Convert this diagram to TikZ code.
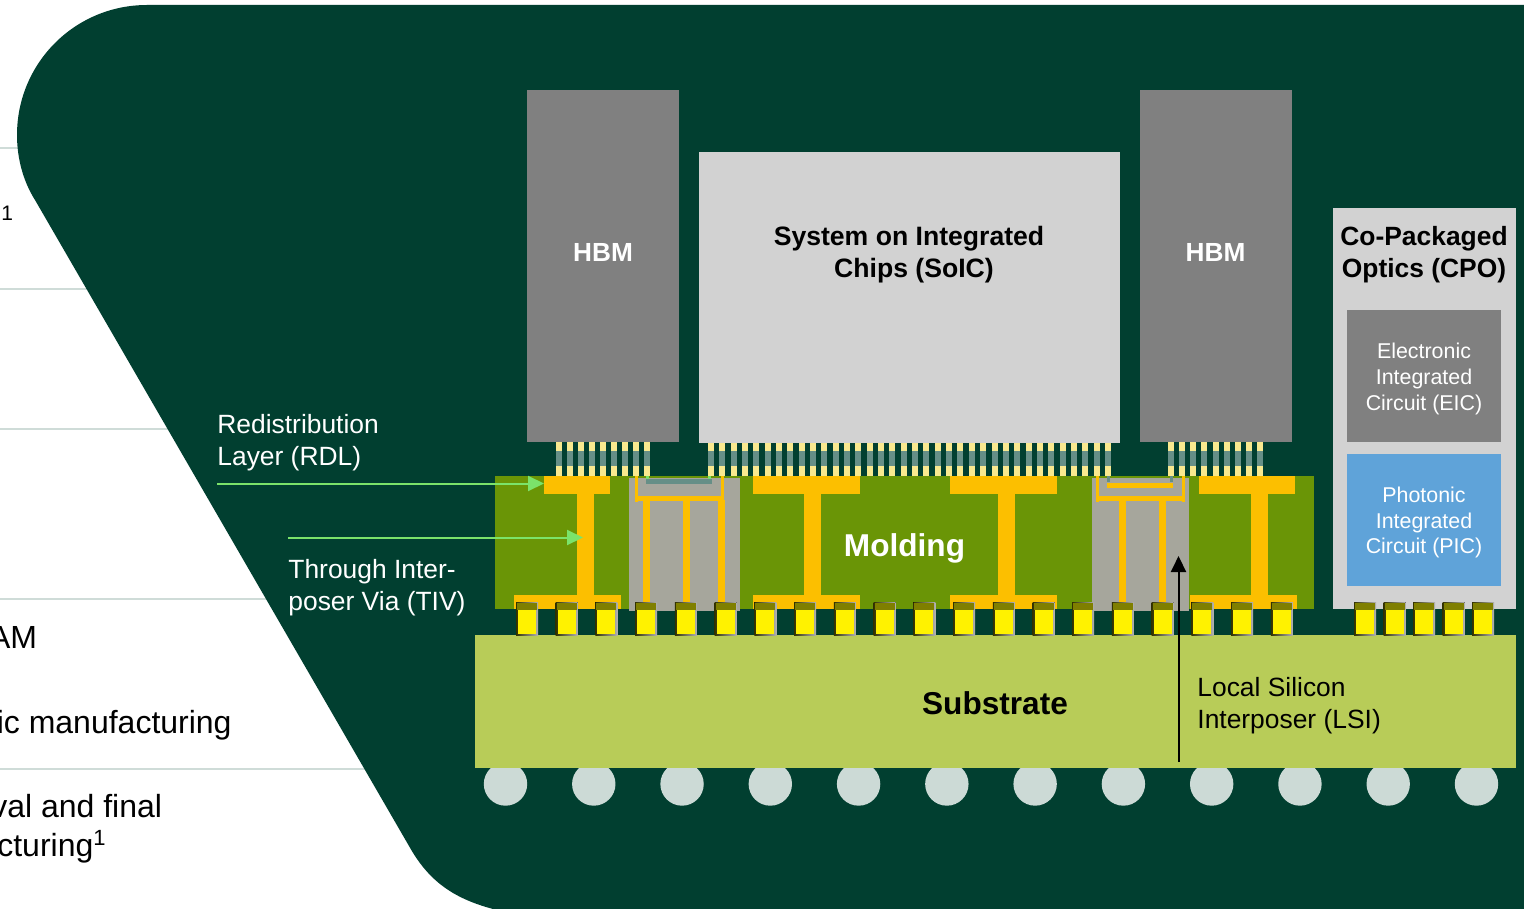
\documentclass[tikz,border=0pt]{standalone}
\usepackage{fontspec}
\setmainfont{Liberation Sans}
\usetikzlibrary{arrows.meta}
\definecolor{bgdark}{HTML}{013F30}
\definecolor{rule}{HTML}{CFDCD8}
\definecolor{hbmgrey}{HTML}{808080}
\definecolor{soicgrey}{HTML}{D2D2D2}
\definecolor{picblue}{HTML}{5FA3D9}
\definecolor{mold}{HTML}{6A9506}
\definecolor{rdl}{HTML}{FCBF00}
\definecolor{lsigrey}{HTML}{A6A69C}
\definecolor{pillar}{HTML}{F9E98F}
\definecolor{pillarmid}{HTML}{668F87}
\definecolor{subst}{HTML}{B8CC58}
\definecolor{ball}{HTML}{CCDAD6}
\definecolor{arrowgreen}{HTML}{7BE36A}
\definecolor{capolive}{HTML}{7F7F00}
\newcommand{\fsize}[2]{\fontsize{#1}{#2}\selectfont}
% \labelbox{name}{x1}{y1}{x2}{y2}{colour}: a rectangle node given by pixel corners
\newcommand{\labelbox}[6]{%
  \pgfmathsetmacro{\bw}{(#4-#2)*0.5}\pgfmathsetmacro{\bh}{(#5-#3)*0.5}%
  \pgfmathsetmacro{\bx}{(#2+#4)/2}\pgfmathsetmacro{\by}{(#3+#5)/2}%
  \node[boxnode,fill=#6,minimum width=\bw pt,minimum height=\bh pt] (#1) at (\bx,\by) {};}
\newcommand{\ibeam}[6]{% pad x1,x2; stem x1,x2; foot x1,x2
  \fill[rdl] (#1,476) rectangle (#2,494);
  \fill[rdl] (#3,494) rectangle (#4,595);
  \fill[rdl] (#5,595) rectangle (#6,609);}
\newcommand{\cfour}[2]{% left x, top y of a solder bump
  \fill[left color=black!60!capolive,right color=black!30] (#1,#2) rectangle (#1+22,635);
  \fill[capolive] (#1+1,#2+1) rectangle (#1+21,#2+8);
  \fill[yellow] (#1+2,#2+8) rectangle (#1+20,634);}
\tikzset{
  boxnode/.style={rectangle,draw=none,inner sep=0pt,outer sep=0pt},
  wlabel/.style={inner sep=0pt,align=left,anchor=west,text=white,font=\fsize{13.2}{16}},
  clabel/.style={inner sep=0pt,align=center},
  lefttext/.style={inner sep=0pt,anchor=base east,align=left,text=black,font=\fsize{16}{19.5}},
  ruleline/.style={draw=rule,line width=1pt},
  callout/.style={line width=1pt,-{Triangle[length=8pt,width=7.5pt]}}
}
\begin{document}
\begin{tikzpicture}[x=0.5pt,y=-0.5pt]
\useasboundingbox (0,0) rectangle (1524,909);
\fill[white] (0,0) rectangle (1524,909);
% left-hand table rules and cut-off text
\begin{scope}
\clip (0,0) rectangle (1524,909);
\draw[ruleline] (0,148.5) -- (30,148.5);
\draw[ruleline] (0,288.5) -- (110,288.5);
\draw[ruleline] (0,428.5) -- (190,428.5);
\draw[ruleline] (0,598.5) -- (290,598.5);
\draw[ruleline] (0,768.5) -- (385,768.5);
\node[lefttext,anchor=base west,font=\fsize{10.5}{12}] (tA) at (1,220.5) {1};
\node[lefttext] (tB) at (37.5,648) {AM};
\node[lefttext] (tC) at (232,733.7) {ic manufacturing};
\node[lefttext] (tD) at (162.5,817.7) {val and final};
\node[lefttext] (tE) at (106,856) {cturing\raisebox{5.5pt}{\fsize{11}{12}1}};
% dark panel
\fill[bgdark] (1524,5) -- (147,5)
  .. controls (75,5) and (17,63) .. (17,135)
  .. controls (17,158) and (23,181) .. (35,200)
  -- (409,846)
  .. controls (428,880) and (452,898) .. (493,909)
  -- (1524,909) -- cycle;
\end{scope}
% solder balls (behind the substrate)
\foreach \i in {0,...,11}{
  \fill[ball] ({505.5+\i*88.27},784) circle[radius=21.7];
}
% molding
\labelbox{molding}{495}{476}{1314}{609}{mold}
% RDL I-beams
\ibeam{544}{610}{577}{594}{514}{621}
\ibeam{753}{860}{804}{821}{753}{860}
\ibeam{950}{1057}{998}{1015}{950}{1057}
\ibeam{1199}{1295}{1251}{1268}{1190}{1297}
% LSI left
\fill[lsigrey] (629,478) rectangle (740,611);
\fill[pillarmid] (646,479) rectangle (712,484);
\fill[arrowgreen] (646,476) rectangle (649,479);
\fill[arrowgreen] (708,476) rectangle (711,479);
\fill[rdl] (635,476) rectangle (638,502);
\fill[rdl] (721,476) rectangle (724,500);
\fill[rdl] (635,496) rectangle (724,501);
\fill[rdl] (643,501) rectangle (650,605);
\fill[rdl] (683,501) rectangle (690,605);
\fill[rdl] (718,500) rectangle (725,605);
% LSI right
\fill[lsigrey] (1092,478) rectangle (1189,611);
\fill[pillarmid] (1107,476) rectangle (1110,482);
\fill[pillarmid] (1170,476) rectangle (1173,482);
\fill[rdl] (1107,483) rectangle (1173,488);
\fill[rdl] (1096,476) rectangle (1099,502);
\fill[rdl] (1182,476) rectangle (1185,502);
\fill[rdl] (1096,496) rectangle (1185,501);
\fill[rdl] (1119,501) rectangle (1126,605);
\fill[rdl] (1159,501) rectangle (1166,605);
% micro pillars
\foreach \sx/\pitch/\n in {556/11/8,708/11.34/35,1168/11.12/8}{
  \foreach \i in {0,...,\n}{
    \fill[pillar] ({\sx+\i*\pitch},441) rectangle ({\sx+\i*\pitch+6},476);
    \fill[pillarmid] ({\sx+\i*\pitch},451) rectangle ({\sx+\i*\pitch+6},466);
  }
}
% chips
\labelbox{hbmA}{527}{90}{679}{442}{hbmgrey}
\labelbox{soic}{699}{152}{1120}{443}{soicgrey}
\labelbox{hbmB}{1140}{90}{1292}{442}{hbmgrey}
\labelbox{cpo}{1333}{208}{1516}{609}{soicgrey}
\labelbox{eic}{1347}{310}{1501}{442}{hbmgrey}
\labelbox{pic}{1347}{454}{1501}{586}{picblue}
% substrate
\labelbox{substrate}{475}{635}{1516}{768}{subst}
% solder bumps
\foreach \i in {0,...,19}{ \cfour{516+\i*39.73}{602} }
\foreach \i in {0,...,4}{ \cfour{1354+\i*29.5}{602} }
% labels
\node[clabel,text=white,font=\fsize{13.1}{16}\bfseries] (lblA) at (603,252) {HBM};
\node[clabel,text=white,font=\fsize{13.1}{16}\bfseries] (lblB) at (1215.5,252) {HBM};
\node[clabel,font=\fsize{13.3}{16}\bfseries] (lblS) at (909,255) {System on Integrated\\\hspace*{5pt}Chips (SoIC)};
\node[clabel,font=\fsize{13.2}{16}\bfseries] (lblC) at (1424,255) {Co-Packaged\\Optics (CPO)};
\node[clabel,text=white,font=\fsize{10.7}{12.8}] (lblE) at (1424,379) {Electronic\\Integrated\\Circuit (EIC)};
\node[clabel,text=white,font=\fsize{10.7}{12.8}] (lblP) at (1424,522.5) {Photonic\\Integrated\\Circuit (PIC)};
\node[clabel,text=white,font=\fsize{15.8}{19}\bfseries] (lblM) at (904.5,548) {Molding};
\node[clabel,font=\fsize{15.8}{19}\bfseries] (lblSub) at (995,703) {Substrate};
\node[wlabel] (rdlT) at (217,443) {Redistribution\\Layer (RDL)};
\node[wlabel] (tivT) at (288,588) {Through Inter-\\poser Via (TIV)};
\node[wlabel,text=black] (lsiT) at (1197,706) {Local Silicon\\Interposer (LSI)};
% callouts
\coordinate (rdlS) at (217,483.5);
\coordinate (rdlE) at (544,483.5);
\coordinate (tivS) at (288,537.5);
\coordinate (tivE) at (583,537.5);
\coordinate (lsiS) at (1178.5,762);
\coordinate (lsiE) at (1178.5,556);
\draw[callout,arrowgreen] (rdlS) -- (rdlE);
\draw[callout,arrowgreen] (tivS) -- (tivE);
\draw[callout,black] (lsiS) -- (lsiE);
\end{tikzpicture}
\end{document}
